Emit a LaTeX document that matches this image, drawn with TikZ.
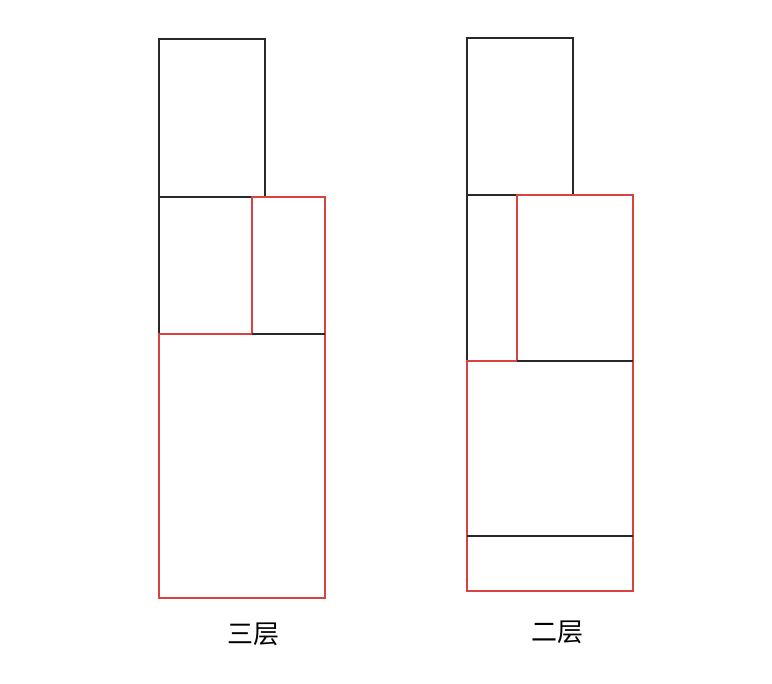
\documentclass[tikz,border=0pt]{standalone}
\usepackage{fontspec}
\newfontfamily\cjk{Noto Sans CJK SC}
\definecolor{wallred}{RGB}{218,65,65}
\definecolor{wallblack}{RGB}{40,40,40}
\begin{document}
\begin{tikzpicture}[x=1pt,y=-1pt,
  blk/.style={draw=wallblack,line width=1.4pt},
  rd/.style={draw=wallred,line width=1.4pt},
  lbl/.style={font=\cjk\fontsize{26}{30}\selectfont,text=black,inner sep=0pt}]
\useasboundingbox (0,0) rectangle (772,684);
% left figure (三层)
\draw[blk] (159,39) rectangle (265,197);
\draw[blk] (159,197) -- (159,334);
\draw[rd] (252,197) rectangle (325,334);
\draw[rd] (159,334) rectangle (325,598);
\draw[blk] (252,334) -- (325,334);
% right figure (二层)
\draw[blk] (467,38) rectangle (573,195);
\draw[blk] (467,195) -- (467,361);
\draw[rd] (517,195) rectangle (633,361);
\draw[rd] (467,361) rectangle (633,591);
\draw[blk] (517,361) -- (633,361);
\draw[blk] (467,536) -- (633,536);
% labels
\node[lbl] (l3) at (253,634) {三层};
\node[lbl] (l2) at (557,632) {二层};
\end{tikzpicture}
\end{document}
